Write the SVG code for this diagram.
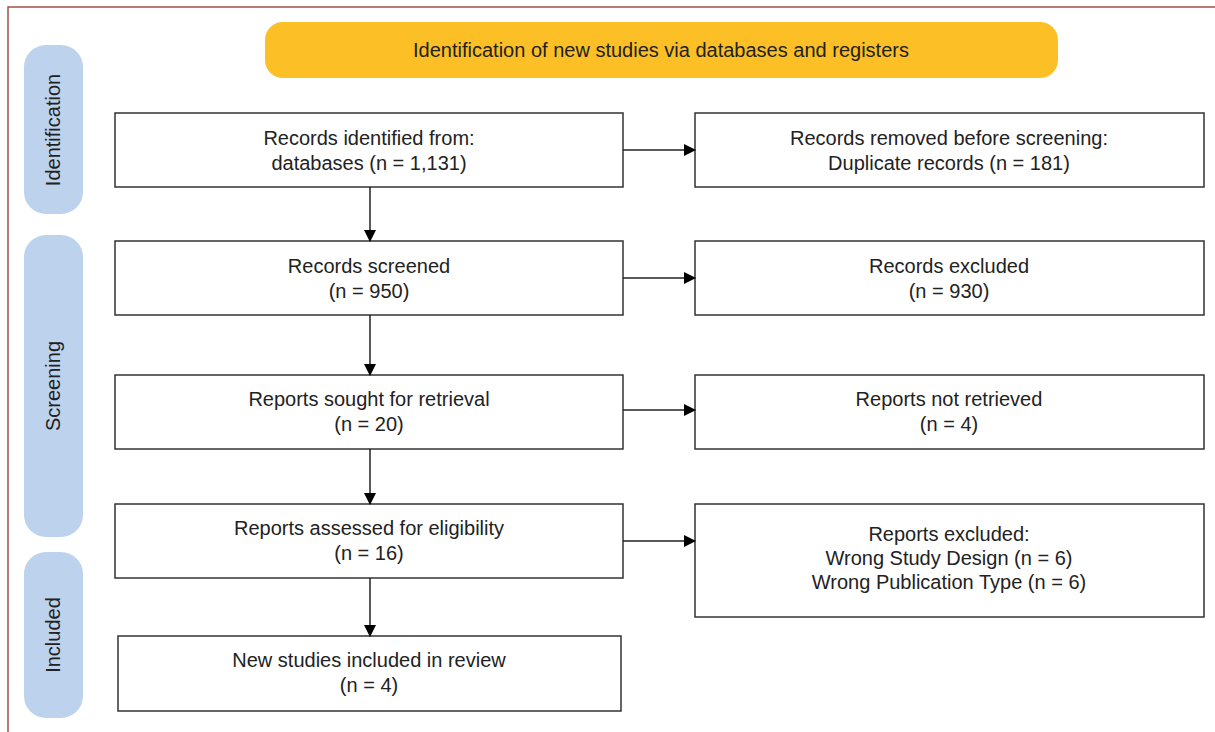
<svg xmlns="http://www.w3.org/2000/svg" width="1215" height="732" viewBox="0 0 1215 732">
<defs>
<marker id="ah" markerWidth="12" markerHeight="12" refX="11" refY="6" orient="auto" markerUnits="userSpaceOnUse">
<path d="M0,0 L12,6 L0,12 Z" fill="#000"/>
</marker>
<style>
.box{fill:#fff;stroke:#333;stroke-width:1.5}
.t{font-family:"Liberation Sans",Arial,sans-serif;font-size:20px;fill:#222;text-anchor:middle}
.pill{fill:#bdd2ec}
.conn{stroke:#222;stroke-width:1.5;fill:none;marker-end:url(#ah)}
</style>
</defs>
<rect width="1215" height="732" fill="#fff"/>
<path d="M8,732 V7 H1215" fill="none" stroke="#a0524a" stroke-width="1.5"/>
<g id="banner">
<rect x="265" y="22" width="793" height="56" rx="18" fill="#fcc026"/>
<text class="t" x="661" y="57">Identification of new studies via databases and registers</text>
</g>
<g id="phase-identification">
<rect class="pill" x="24" y="45" width="59" height="169" rx="22"/>
<text class="t" transform="translate(60,130) rotate(-90)">Identification</text>
</g>
<g id="phase-screening">
<rect class="pill" x="24" y="235" width="59" height="302" rx="22"/>
<text class="t" transform="translate(60,386) rotate(-90)">Screening</text>
</g>
<g id="phase-included">
<rect class="pill" x="24" y="552" width="59" height="166" rx="22"/>
<text class="t" transform="translate(60,635) rotate(-90)">Included</text>
</g>
<g id="n1">
<rect class="box" x="115" y="113" width="508" height="74"/>
<text class="t" x="369" y="145">Records identified from:</text>
<text class="t" x="369" y="170">databases (n = 1,131)</text>
</g>
<g id="n2">
<rect class="box" x="695" y="113" width="509" height="74"/>
<text class="t" x="949" y="145">Records removed before screening:</text>
<text class="t" x="949" y="170">Duplicate records (n = 181)</text>
</g>
<g id="n3">
<rect class="box" x="115" y="241" width="508" height="74"/>
<text class="t" x="369" y="273">Records screened</text>
<text class="t" x="369" y="298">(n = 950)</text>
</g>
<g id="n4">
<rect class="box" x="695" y="241" width="509" height="74"/>
<text class="t" x="949" y="273">Records excluded</text>
<text class="t" x="949" y="298">(n = 930)</text>
</g>
<g id="n5">
<rect class="box" x="115" y="375" width="508" height="74"/>
<text class="t" x="369" y="406">Reports sought for retrieval</text>
<text class="t" x="369" y="431">(n = 20)</text>
</g>
<g id="n6">
<rect class="box" x="695" y="375" width="509" height="74"/>
<text class="t" x="949" y="406">Reports not retrieved</text>
<text class="t" x="949" y="431">(n = 4)</text>
</g>
<g id="n7">
<rect class="box" x="115" y="504" width="508" height="74"/>
<text class="t" x="369" y="535">Reports assessed for eligibility</text>
<text class="t" x="369" y="560">(n = 16)</text>
</g>
<g id="n8">
<rect class="box" x="695" y="504" width="509" height="113"/>
<text class="t" x="949" y="541">Reports excluded:</text>
<text class="t" x="949" y="565">Wrong Study Design (n = 6)</text>
<text class="t" x="949" y="589">Wrong Publication Type (n = 6)</text>
</g>
<g id="n9">
<rect class="box" x="118" y="636" width="503" height="75"/>
<text class="t" x="369" y="667">New studies included in review</text>
<text class="t" x="369" y="692">(n = 4)</text>
</g>
<g id="connectors">
<line class="conn" x1="623" y1="150" x2="695" y2="150"/>
<line class="conn" x1="623" y1="278" x2="695" y2="278"/>
<line class="conn" x1="623" y1="410" x2="695" y2="410"/>
<line class="conn" x1="623" y1="541" x2="695" y2="541"/>
<line class="conn" x1="370" y1="187" x2="370" y2="241"/>
<line class="conn" x1="370" y1="315" x2="370" y2="375"/>
<line class="conn" x1="370" y1="449" x2="370" y2="504"/>
<line class="conn" x1="370" y1="578" x2="370" y2="636"/>
</g>
</svg>
